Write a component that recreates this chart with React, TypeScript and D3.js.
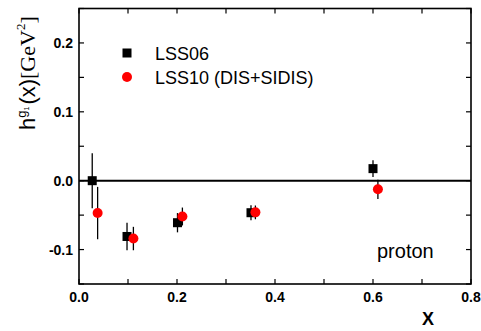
import * as d3 from "d3";

// LSS06 (black squares)
const lss06X = [0.027, 0.098, 0.201, 0.351, 0.600];
const lss06Y = [0.0, -0.081, -0.061, -0.0465, 0.0175];
const lss06Err = [0.040, 0.020, 0.014, 0.011, 0.012];

// LSS10 (DIS+SIDIS) (red circles)
const lss10X = [0.038, 0.111, 0.211, 0.360, 0.610];
const lss10Y = [-0.047, -0.084, -0.052, -0.046, -0.0125];
const lss10Err = [0.038, 0.017, 0.013, 0.010, 0.014];

const xTicks = [0, 0.1, 0.2, 0.3, 0.4, 0.5, 0.6, 0.7, 0.8];
const yTicks = [-0.15, -0.1, -0.05, 0, 0.05, 0.1, 0.15, 0.2, 0.25];
const xLabels = ["0.0", "0.2", "0.4", "0.6", "0.8"];
const yLabels = ["-0.1", "0.0", "0.1", "0.2"];

export default function App() {
  const W = 481;
  const H = 331;
  const m = { left: 79, right: 10, top: 8.5, bottom: 47 };
  const x = d3.scaleLinear().domain([0, 0.8]).range([m.left, W - m.right]);
  const y = d3.scaleLinear().domain([-0.15, 0.25]).range([H - m.bottom, m.top]);
  const tl = 5;
  const x0 = x(0), x1 = x(0.8), y0 = y(-0.15), y1 = y(0.25);
  const sq = 9;
  const serif = "Liberation Serif, Times New Roman, serif";

  return (
    <svg width={W} height={H} style={{ position: "absolute", left: 0, top: 0, fontFamily: "Liberation Sans, Arial, sans-serif" }}>
      <rect width={W} height={H} fill="#fff" />
      {/* zero line */}
      <line x1={x0} x2={x1} y1={y(0)} y2={y(0)} stroke="#000" strokeWidth={2} />

      {/* ticks */}
      {xTicks.map((t, i) => (
        <g key={"xt" + i}>
          <line x1={x(t)} x2={x(t)} y1={y0} y2={y0 - tl} stroke="#000" strokeWidth={1.2} />
          <line x1={x(t)} x2={x(t)} y1={y1} y2={y1 + tl} stroke="#000" strokeWidth={1.2} />
        </g>
      ))}
      {yTicks.map((t, i) => (
        <g key={"yt" + i}>
          <line x1={x0} x2={x0 + tl} y1={y(t)} y2={y(t)} stroke="#000" strokeWidth={1.2} />
          <line x1={x1} x2={x1 - tl} y1={y(t)} y2={y(t)} stroke="#000" strokeWidth={1.2} />
        </g>
      ))}
      <rect x={x0} y={y1} width={x1 - x0} height={y0 - y1} fill="none" stroke="#000" strokeWidth={1.6} />

      {/* tick labels */}
      {xLabels.map((l) => (
        <text key={l} x={x(+l)} y={y0 + 18} textAnchor="middle" fontSize={14} fontWeight="bold">{l}</text>
      ))}
      {yLabels.map((l) => (
        <text key={l} x={x0 - 6} y={y(+l) + 5} textAnchor="end" fontSize={14} fontWeight="bold">{l}</text>
      ))}

      {/* axis titles */}
      <text x={428} y={325} textAnchor="middle" fontSize={18} fontWeight="bold">X</text>
      <text transform={`translate(35,130) rotate(-90)`} fontSize={22}>
        <tspan>h</tspan>
        <tspan fontSize={13} dy={-9}>g</tspan>
        <tspan fontSize={7} dy={3}>1</tspan>
        <tspan dy={6} dx={2}>(x)</tspan>
        <tspan fontFamily={serif}>[GeV</tspan>
        <tspan fontFamily={serif} fontSize={13} dy={-10}>2</tspan>
        <tspan fontFamily={serif} dy={10}>]</tspan>
      </text>

      {/* LSS06 */}
      {lss06X.map((v, i) => (
        <g key={"a" + i}>
          <line x1={x(v)} x2={x(v)} y1={y(lss06Y[i] - lss06Err[i])} y2={y(lss06Y[i] + lss06Err[i])} stroke="#000" strokeWidth={1.3} />
          <rect x={x(v) - sq / 2} y={y(lss06Y[i]) - sq / 2} width={sq} height={sq} fill="#000" />
        </g>
      ))}
      {/* LSS10 */}
      {lss10X.map((v, i) => (
        <g key={"b" + i}>
          <line x1={x(v)} x2={x(v)} y1={y(lss10Y[i] - lss10Err[i])} y2={y(lss10Y[i] + lss10Err[i])} stroke="#000" strokeWidth={1.3} />
          <circle cx={x(v)} cy={y(lss10Y[i])} r={5} fill="#ff0000" />
        </g>
      ))}

      {/* legend */}
      <rect x={127 - sq / 2} y={53 - sq / 2} width={sq} height={sq} fill="#000" />
      <text x={155} y={60} fontSize={18}>LSS06</text>
      <circle cx={127} cy={77} r={5} fill="#ff0000" />
      <text x={155} y={84} fontSize={18}>LSS10 (DIS+SIDIS)</text>

      <text x={377} y={258} fontSize={20}>proton</text>
    </svg>
  );
}
